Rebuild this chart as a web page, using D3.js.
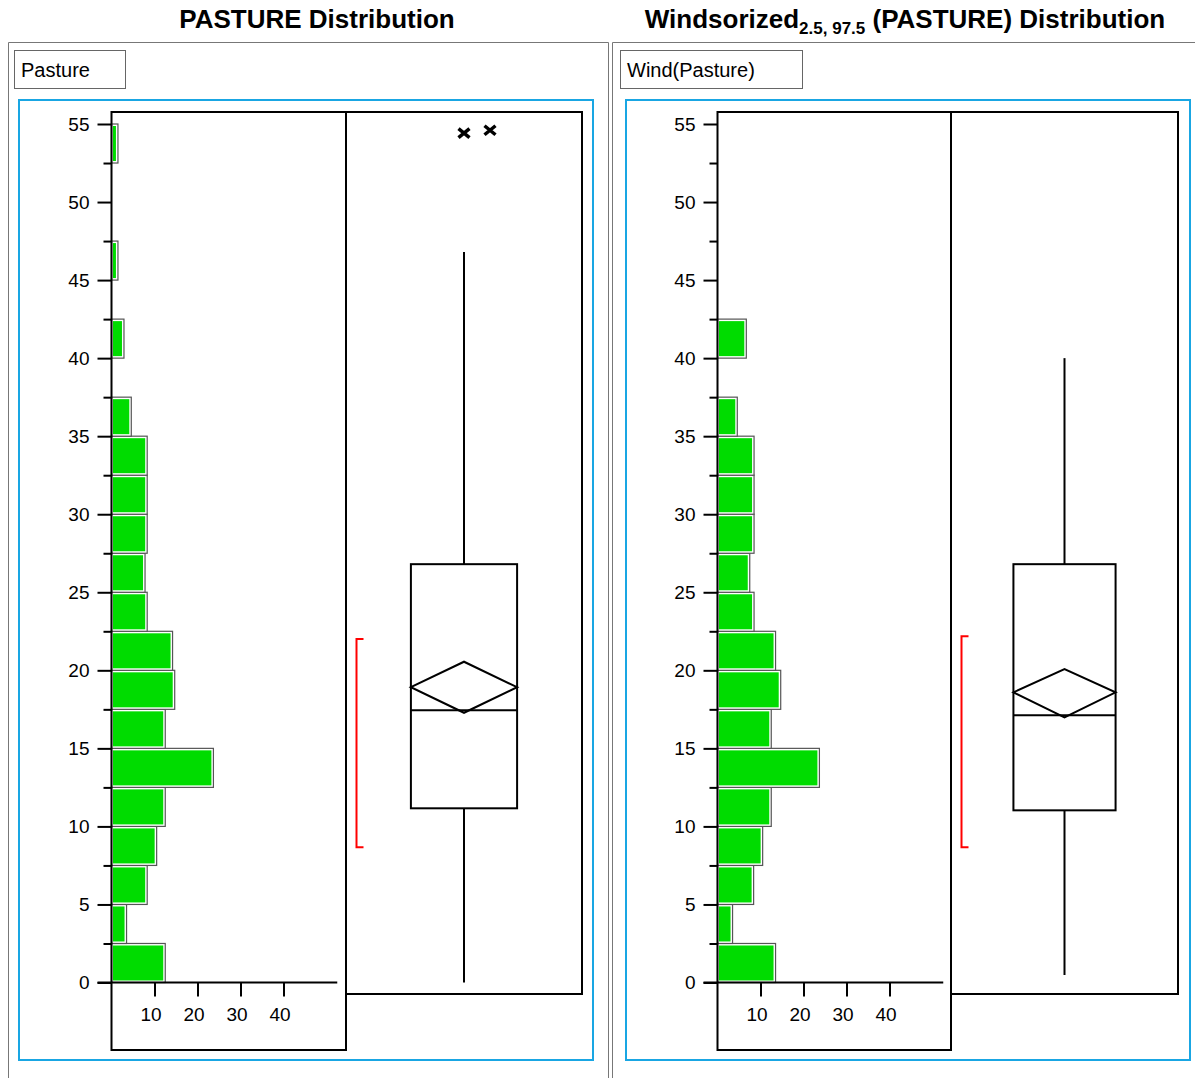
<!DOCTYPE html>
<html>
<head>
<meta charset="utf-8">
<script src="https://cdn.jsdelivr.net/npm/d3@7"></script>
<style>
  body { margin: 0; background: #fff; }
  text { font-family: "Liberation Sans", Arial, sans-serif; }
</style>
</head>
<body>
<svg id="chart" width="1195" height="1078"></svg>
<script>
// ---- data -------------------------------------------------------------
const binStarts = [0, 2.5, 5, 7.5, 10, 12.5, 15, 17.5, 20, 22.5, 25, 27.5,
                   30, 32.5, 35, 37.5, 40, 42.5, 45, 47.5, 50, 52.5];
const binWidth = 2.5;

// histogram bar lengths (count axis)
const pastureCounts = [12.5, 3.5, 8.3, 10.5, 12.5, 23.7, 12.5, 14.7, 14.2, 8.3, 7.8, 8.3,
                       8.3, 8.3, 4.6, 0, 2.9, 0, 1.5, 0, 0, 1.5];
const windCounts    = [13.5, 3.5, 8.4, 10.5, 12.5, 23.7, 12.5, 14.7, 13.5, 8.5, 7.5, 8.5,
                       8.5, 8.5, 4.6, 0, 6.7, 0, 0, 0, 0, 0];

// whisker low, Q1, median, Q3, whisker high
const pastureFive = [0, 11.16, 17.44, 26.8, 46.8];
const windFive    = [0.48, 11.03, 17.12, 26.8, 40.0];
// mean confidence diamond: lower, mean, upper
const pastureMeanCI = [17.28, 18.92, 20.55];
const windMeanCI    = [16.99, 18.59, 20.08];
// shortest half bracket
const pastureShortHalf = [8.66, 22.0];
const windShortHalf    = [8.66, 22.18];
// outliers beyond the upper whisker
const pastureOutliers = [54.42, 54.6];
const windOutliers    = [];

const yTickValues  = [0, 5, 10, 15, 20, 25, 30, 35, 40, 45, 50, 55];
const yMinorValues = [2.5, 7.5, 12.5, 17.5, 22.5, 27.5, 32.5, 37.5, 42.5, 47.5, 52.5];
const countTickValues = [10, 20, 30, 40];

// ---- drawing ----------------------------------------------------------
const svg = d3.select("#chart");
const GREEN = "#00dc00";
const BLUE = "#19a6e3";

const y = d3.scaleLinear().domain([0, 55]).range([982.5, 124]);
const frameTop = 112, histBottom = 1050, boxBottom = 994;

function title(parts, cx) {
  const t = svg.append("text")
    .attr("x", cx).attr("y", 28)
    .attr("text-anchor", "middle")
    .attr("font-weight", "bold")
    .attr("font-size", 26);
  parts.forEach(p => {
    const ts = t.append("tspan").text(p.text);
    if (p.sub) ts.attr("font-size", 17).attr("dy", 6);
    else if (p.after) ts.attr("dy", -6);
  });
}

function panel(cfg) {
  const g = svg.append("g");

  // outer panel border
  g.append("path")
    .attr("d", `M${cfg.px0 + 0.5},1078 V${42.5} H${cfg.px1 + 0.5} V1078`)
    .attr("fill", "none").attr("stroke", "#777").attr("stroke-width", 1);

  // variable label box
  g.append("rect")
    .attr("x", cfg.label[0] + 0.5).attr("y", 50.5)
    .attr("width", cfg.label[1]).attr("height", 38)
    .attr("fill", "#fff").attr("stroke", "#666");
  g.append("text")
    .attr("x", cfg.label[0] + 7).attr("y", 77)
    .attr("font-size", 20).text(cfg.name);

  // blue frame
  g.append("rect")
    .attr("x", cfg.blue[0]).attr("y", 100)
    .attr("width", cfg.blue[1] - cfg.blue[0]).attr("height", 960)
    .attr("fill", "none").attr("stroke", BLUE).attr("stroke-width", 2);

  const x0 = cfg.hx0;
  const cx = d3.scaleLinear().domain([0, 10]).range([x0, x0 + 43]);

  // histogram bars
  const bars = g.append("g");
  binStarts.forEach((b, i) => {
    const c = cfg.counts[i];
    if (c <= 0) return;
    const top = y(b + binWidth), bot = y(b);
    const right = cx(c);
    bars.append("rect")
      .attr("x", x0).attr("y", top)
      .attr("width", right - x0).attr("height", bot - top)
      .attr("fill", "#fff").attr("stroke", "#555").attr("stroke-width", 1.2);
    if (right - x0 > 4) {
      bars.append("rect")
        .attr("x", x0 + 1.5).attr("y", top + 2)
        .attr("width", right - x0 - 3.5).attr("height", bot - top - 4)
        .attr("fill", GREEN);
    }
  });

  // histogram frame (left side doubles as the value axis)
  g.append("rect")
    .attr("x", x0).attr("y", frameTop)
    .attr("width", cfg.hx1 - x0).attr("height", histBottom - frameTop)
    .attr("fill", "none").attr("stroke", "#000").attr("stroke-width", 2);

  // value axis ticks
  const ya = g.append("g").attr("transform", `translate(${x0},0)`)
    .call(d3.axisLeft(y).tickValues(yTickValues).tickSize(14).tickPadding(8).tickSizeOuter(0));
  ya.select(".domain").remove();
  ya.selectAll("line").attr("stroke", "#000").attr("stroke-width", 2);
  ya.selectAll("text").attr("font-size", 19).attr("fill", "#000")
    .attr("font-family", "Liberation Sans, Arial, sans-serif");
  const ym = g.append("g").attr("transform", `translate(${x0},0)`)
    .call(d3.axisLeft(y).tickValues(yMinorValues).tickSize(8).tickFormat("").tickSizeOuter(0));
  ym.select(".domain").remove();
  ym.selectAll("line").attr("stroke", "#000").attr("stroke-width", 2);

  // count axis
  g.append("line")
    .attr("x1", x0 - 14).attr("x2", cx(52.5))
    .attr("y1", y(0)).attr("y2", y(0))
    .attr("stroke", "#000").attr("stroke-width", 2);
  const xa = g.append("g").attr("transform", `translate(0,${y(0)})`)
    .call(d3.axisBottom(cx).tickValues(countTickValues).tickSize(14).tickPadding(11).tickSizeOuter(0));
  xa.select(".domain").remove();
  xa.selectAll("line").attr("stroke", "#000").attr("stroke-width", 2);
  xa.selectAll("text").attr("font-size", 19).attr("fill", "#000").attr("dx", -4)
    .attr("font-family", "Liberation Sans, Arial, sans-serif");

  // box plot frame
  g.append("rect")
    .attr("x", cfg.hx1).attr("y", frameTop)
    .attr("width", cfg.bx1 - cfg.hx1).attr("height", boxBottom - frameTop)
    .attr("fill", "none").attr("stroke", "#000").attr("stroke-width", 2);

  const mid = (cfg.hx1 + cfg.bx1) / 2;
  const half = (cfg.bx1 - cfg.hx1) * 0.225;
  const [wLo, q1, med, q3, wHi] = cfg.five;
  const line = (x1, y1, x2, y2, col) => g.append("line")
    .attr("x1", x1).attr("y1", y1).attr("x2", x2).attr("y2", y2)
    .attr("stroke", col || "#000").attr("stroke-width", 2);

  line(mid, y(q3), mid, y(wHi));
  line(mid, y(q1), mid, y(wLo));
  g.append("rect")
    .attr("x", mid - half).attr("y", y(q3))
    .attr("width", half * 2).attr("height", y(q1) - y(q3))
    .attr("fill", "none").attr("stroke", "#000").attr("stroke-width", 2);
  line(mid - half, y(med), mid + half, y(med));

  const [ciLo, mean, ciHi] = cfg.ci;
  g.append("path")
    .attr("d", `M${mid - half},${y(mean)} L${mid},${y(ciHi)} L${mid + half},${y(mean)} L${mid},${y(ciLo)} Z`)
    .attr("fill", "none").attr("stroke", "#000").attr("stroke-width", 2).attr("stroke-linejoin", "miter");

  // shortest half bracket
  const bx = cfg.hx1 + 10.5;
  g.append("path")
    .attr("d", `M${bx + 7},${y(cfg.shortHalf[1])} H${bx} V${y(cfg.shortHalf[0])} H${bx + 7}`)
    .attr("fill", "none").attr("stroke", "#f00").attr("stroke-width", 2);

  // outlier markers
  cfg.outliers.forEach((v, i) => {
    const ox = mid + i * 26, oy = y(v);
    g.append("path")
      .attr("d", `M${ox - 5.5},${oy - 4.5} L${ox + 5.5},${oy + 4.5} M${ox - 5.5},${oy + 4.5} L${ox + 5.5},${oy - 4.5}`)
      .attr("stroke", "#000").attr("stroke-width", 3.5);
  });
}

title([{ text: "PASTURE Distribution" }], 317);
title([{ text: "Windsorized" }, { text: "2.5, 97.5", sub: true }, { text: " (PASTURE) Distribution", after: true }], 905);

panel({
  name: "Pasture", px0: 8, px1: 608, label: [14, 111], blue: [19, 593],
  hx0: 111.5, hx1: 346, bx1: 582,
  counts: pastureCounts, five: pastureFive, ci: pastureMeanCI,
  shortHalf: pastureShortHalf, outliers: pastureOutliers
});
panel({
  name: "Wind(Pasture)", px0: 612, px1: 1200, label: [620, 182], blue: [626, 1190],
  hx0: 717.5, hx1: 951, bx1: 1178,
  counts: windCounts, five: windFive, ci: windMeanCI,
  shortHalf: windShortHalf, outliers: windOutliers
});
</script>
</body>
</html>
